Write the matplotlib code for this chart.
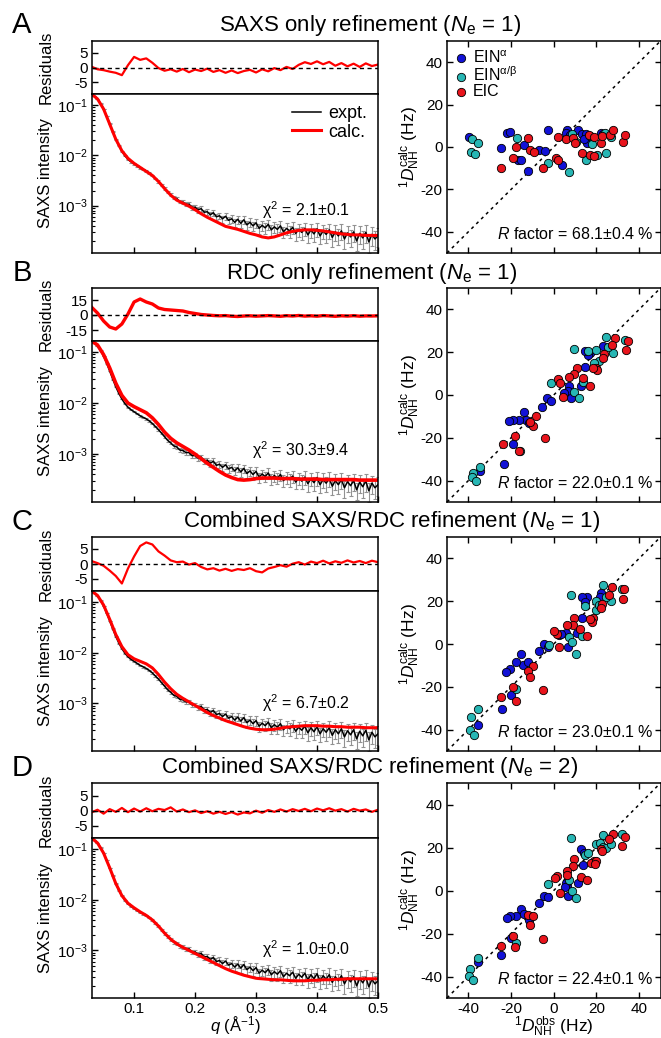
import numpy as np
import matplotlib.pyplot as plt

plt.rcParams['font.family'] = ['Liberation Sans', 'DejaVu Sans']
plt.rcParams['mathtext.fontset'] = 'custom'
plt.rcParams['mathtext.rm'] = 'Liberation Sans'
plt.rcParams['mathtext.it'] = 'Liberation Sans:italic'
plt.rcParams['mathtext.bf'] = 'Liberation Sans:bold'
plt.rcParams['mathtext.sf'] = 'Liberation Sans'
plt.rcParams['axes.unicode_minus'] = False
plt.rcParams['axes.linewidth'] = 1.1

# ---- SAXS data ----
# calc curves and residuals on a 0.01 grid
q = [0.03, 0.04, 0.05, 0.06, 0.07, 0.08, 0.09, 0.10, 0.11, 0.12,
     0.13, 0.14, 0.15, 0.16, 0.17, 0.18, 0.19, 0.20, 0.21, 0.22,
     0.23, 0.24, 0.25, 0.26, 0.27, 0.28, 0.29, 0.30, 0.31, 0.32,
     0.33, 0.34, 0.35, 0.36, 0.37, 0.38, 0.39, 0.40, 0.41, 0.42,
     0.43, 0.44, 0.45, 0.46, 0.47, 0.48, 0.49, 0.50]

# experimental curve (log10 I) on a 0.005 grid, 0.030 ... 0.500
expt_log = [-0.78, -0.82, -0.88, -0.97, -1.08, -1.22, -1.37, -1.53, -1.68, -1.81,
            -1.92, -2.01, -2.08, -2.13, -2.17, -2.21, -2.25, -2.28, -2.31, -2.35,
            -2.40, -2.46, -2.52, -2.59, -2.66, -2.73, -2.78, -2.84, -2.86, -2.92,
            -2.93, -2.97, -2.97, -3.03, -3.03, -3.08, -3.06, -3.13, -3.12, -3.18,
            -3.14, -3.22, -3.20, -3.26, -3.21, -3.29, -3.26, -3.33, -3.27, -3.35,
            -3.28, -3.38, -3.33, -3.40, -3.34, -3.45, -3.39, -3.44, -3.37, -3.48,
            -3.42, -3.47, -3.40, -3.52, -3.45, -3.50, -3.43, -3.55, -3.47, -3.53,
            -3.45, -3.58, -3.48, -3.56, -3.46, -3.60, -3.50, -3.57, -3.48, -3.63,
            -3.52, -3.60, -3.50, -3.66, -3.54, -3.62, -3.52, -3.70, -3.55, -3.64,
            -3.53, -3.72, -3.57, -3.66, -3.60]
expt_relerr = [0.01, 0.01, 0.01, 0.01, 0.01, 0.01, 0.01, 0.02, 0.02, 0.02,
               0.02, 0.02, 0.02, 0.03, 0.03, 0.03, 0.03, 0.03, 0.03, 0.04,
               0.04, 0.04, 0.05, 0.05, 0.06, 0.06, 0.07, 0.07, 0.08, 0.08,
               0.09, 0.10, 0.10, 0.11, 0.11, 0.12, 0.12, 0.13, 0.13, 0.14,
               0.14, 0.15, 0.15, 0.16, 0.16, 0.17, 0.17, 0.18, 0.18, 0.19,
               0.19, 0.20, 0.20, 0.21, 0.21, 0.22, 0.22, 0.23, 0.23, 0.24,
               0.24, 0.25, 0.25, 0.26, 0.26, 0.27, 0.27, 0.28, 0.28, 0.29,
               0.29, 0.30, 0.30, 0.31, 0.31, 0.32, 0.32, 0.33, 0.33, 0.34,
               0.34, 0.35, 0.35, 0.36, 0.36, 0.37, 0.37, 0.38, 0.38, 0.39,
               0.39, 0.40, 0.40, 0.41, 0.41]

calc_a = [-0.78, -0.88, -1.08, -1.38, -1.68, -1.91, -2.06, -2.16, -2.24, -2.32,
          -2.40, -2.52, -2.66, -2.79, -2.89, -2.95, -3.01, -3.08, -3.16, -3.23,
          -3.29, -3.35, -3.41, -3.44, -3.47, -3.51, -3.55, -3.58, -3.62, -3.64,
          -3.62, -3.58, -3.54, -3.51, -3.49, -3.48, -3.48, -3.49, -3.50, -3.52,
          -3.54, -3.56, -3.57, -3.58, -3.58, -3.59, -3.59, -3.59]
calc_b = [-0.78, -0.86, -1.05, -1.31, -1.61, -1.85, -2.00, -2.07, -2.13, -2.19,
          -2.29, -2.42, -2.57, -2.69, -2.78, -2.85, -2.92, -3.00, -3.09, -3.18,
          -3.26, -3.34, -3.41, -3.46, -3.50, -3.51, -3.50, -3.48, -3.47, -3.47,
          -3.47, -3.48, -3.48, -3.48, -3.49, -3.49, -3.49, -3.49, -3.50, -3.50,
          -3.50, -3.50, -3.50, -3.50, -3.51, -3.51, -3.51, -3.51]
calc_c = [-0.78, -0.87, -1.06, -1.34, -1.64, -1.88, -2.04, -2.12, -2.17, -2.22,
          -2.30, -2.43, -2.58, -2.71, -2.82, -2.90, -2.97, -3.04, -3.11, -3.18,
          -3.24, -3.29, -3.34, -3.38, -3.42, -3.46, -3.49, -3.51, -3.52, -3.52,
          -3.51, -3.49, -3.47, -3.46, -3.45, -3.44, -3.44, -3.44, -3.45, -3.45,
          -3.46, -3.46, -3.47, -3.47, -3.47, -3.48, -3.48, -3.48]
calc_d = [-0.78, -0.88, -1.08, -1.37, -1.68, -1.92, -2.07, -2.16, -2.24, -2.31,
          -2.40, -2.52, -2.66, -2.78, -2.87, -2.94, -3.00, -3.06, -3.12, -3.18,
          -3.24, -3.30, -3.36, -3.41, -3.45, -3.49, -3.52, -3.55, -3.56, -3.57,
          -3.58, -3.58, -3.59, -3.60, -3.60, -3.60, -3.59, -3.59, -3.58, -3.58,
          -3.57, -3.57, -3.56, -3.56, -3.56, -3.56, -3.56, -3.56]

resid_a = [0.3, -0.6, -0.9, -1.4, -1.8, -2.6, 0.8, 3.6, 2.6, 3.1,
           1.6, -0.2, -1.1, -0.6, -1.4, -0.5, -1.6, -0.7, -1.2, -0.4,
           -1.5, -0.9, -1.8, -1.0, -1.9, -1.2, -0.8, -1.7, -0.6, -1.3,
           -0.2, -0.9, 0.2, -0.5, 0.9, 1.8, 1.2, 2.1, 1.1, 1.9,
           0.6, 1.5, 0.4, 1.3, 0.2, 1.4, 0.5, 1.0]
resid_b = [8, 2, -6, -12, -14, -9, 1, 13, 16, 13,
           11, 7, 5.5, 5, 4.5, 4, 2.5, 1.5, 0.5, 0,
           -0.5, -0.8, -0.6, -1.2, -1.5, -1.0, -0.8, -1.2, -0.9, -0.6,
           -0.9, -1.3, -0.7, -1.0, -0.5, -1.1, -0.8, -1.2, -0.6, -0.9,
           -1.3, -0.8, -1.1, -0.7, -1.2, -0.9, -1.0, -0.8]
resid_c = [1.0, 0.3, -0.6, -2.2, -4.0, -6.5, -1.5, 2.5, 6.0, 7.2,
           6.5, 4.2, 2.8, 1.2, 0.6, 0.8, -0.2, 0.3, -1.0, -1.8,
           -1.4, -2.2, -1.6, -2.3, -1.7, -2.0, -1.4, -2.4, -2.8, -1.5,
           -1.0, -0.4, -0.9, 0.1, 0.6, -0.2, 0.8, 0.3, 1.1, 0.2,
           0.9, 0.4, 1.2, 0.5, 1.0, 0.3, 1.1, 0.6]
resid_d = [-0.5, 0.4, -0.9, 0.6, -0.3, 1.0, -0.4, 0.8, -0.2, 0.9,
           -0.1, 0.7, 0.3, 1.2, -0.2, 0.5, -0.4, 0.2, -0.7, -0.1,
           -0.9, -0.3, -1.0, -0.4, -1.2, -0.5, -0.8, 0.1, -0.6, 0.3,
           -0.3, 0.5, -0.2, 0.6, 0.0, 0.7, -0.1, 0.8, 0.2, 0.9,
           0.1, 0.6, -0.2, 0.7, 0.1, 0.5, -0.3, 0.4]

# ---- RDC data: observed (x) vs calculated (y), Hz ----
a_eina_x = [-39.6, -24.5, -22.1, -20.3, -14.1, -16.9, -15.2, -12.1, -7.1, -4.3, -2.5,
            3.7, 6.0, 5.6, 7.5, 11.5, 13.3, 15.3, 15.8, 22.3, 23.0, 14.2]
a_eina_y = [4.9, -0.3, 6.8, 7.3, 0.9, -6.2, -6.3, -11.4, -1.6, -1.9, 7.9,
            -8.5, 7.9, 6.8, 5.5, 7.9, 6.0, 6.3, 1.7, 6.8, 5.9, 3.6]
a_einab_x = [-38.5, -35.3, -38.9, -37.0, -17.2, -2.5, 7.1, 8.4, 10.2, 14.9, 18.0,
             20.4, 24.3, 23.8, 26.6, 16.9]
a_einab_y = [3.6, 2.1, -2.4, -3.5, 4.4, -7.7, -11.8, 6.0, 2.5, -6.3, 1.6,
             -3.8, -2.7, 6.8, 4.9, 5.2]
a_eic_x = [-24.6, -19.2, -17.6, -12.1, -11.3, -9.1, -5.1, 0.9, 2.0, 2.2, 5.7, 9.1,
           10.0, 13.0, 16.6, 18.7, 16.9, 18.9, 22.0, 22.8, 26.2, 27.7, 32.4, 33.4]
a_eic_y = [-9.8, -5.4, -0.2, 4.1, -1.4, -2.4, -9.8, -5.0, -6.2, 4.9, 3.6, 4.4,
           2.0, -2.7, 5.5, 4.9, -3.9, -4.3, 2.1, 5.2, 5.5, 7.9, 2.4, 5.5]

b_eina_x = [23.0, 17.0, 16.2, 14.7, 14.7, 12.7, 7.3, 6.6, 4.6, 8.0, -3.2,
            -1.5, -5.7, -14.1, -12.8, -16.2, -19.3, -21.0, -11.6, -19.2, -23.3, -34.5]
b_eina_y = [23.0, 19.8, 18.7, 20.6, 13.2, 4.2, 4.2, 2.0, 0.8, -1.6, -1.6,
            -2.6, -5.5, -7.9, -11.7, -11.7, -11.7, -12.1, -12.9, -23.0, -32.4, -35.4]
b_einab_x = [24.6, 33.6, 27.9, 25.5, 19.8, 21.3, 18.7, 15.9, 9.3, 13.9, 9.7, 11.7,
             -1.2, -16.0, -34.5, -37.9, -38.3, -36.6]
b_einab_y = [26.9, 25.7, 19.5, 22.6, 21.0, 15.9, 14.8, 20.4, 21.3, 6.2, 1.6, -1.6,
             5.5, -26.2, -33.5, -36.6, -38.2, -40.2]
b_eic_x = [28.7, 34.9, 33.8, 27.3, 23.7, 22.9, 19.8, 20.1, 18.2, 10.7, 9.6, 7.0,
           2.2, 3.1, 4.2, 13.9, 17.1, -8.3, -9.8, -10.9, -18.0, -16.3, -23.8, -3.9]
b_eic_y = [26.5, 25.4, 21.0, 23.4, 19.2, 17.1, 12.8, 11.7, 12.6, 12.8, 9.7, 8.6,
           7.3, 5.5, -1.1, 7.8, 4.2, -9.8, -14.3, -12.5, -19.0, -26.0, -23.0, -20.2]

c_eina_x = [22.0, 21.5, 15.5, 13.1, 14.7, 13.4, 10.8, 6.6, 5.7, 2.6, 3.4, -4.6,
            -6.9, -2.8, -15.5, -14.4, -17.5, -12.2, -20.6, -22.4, -20.0, -24.4, -35.5]
c_eina_y = [23.6, 21.9, 21.9, 21.9, 19.7, 12.0, 5.2, -1.3, 5.2, 4.1, 4.9, 0.2,
            -3.4, -1.5, -4.6, -9.6, -8.5, -8.5, -11.5, -13.0, -23.6, -30.3, -37.7]
c_einab_x = [23.3, 32.0, 26.6, 24.6, 19.6, 19.6, 21.2, 14.7, 8.0, 7.0, 8.5, 13.0,
             10.4, -2.3, -17.5, -35.5, -38.8, -39.1, -37.2]
c_einab_y = [27.4, 25.5, 20.0, 21.9, 20.3, 16.0, 18.0, 17.7, 22.9, 3.2, 1.0, 3.6,
             -4.9, -0.5, -21.0, -30.3, -33.9, -40.3, -42.6]
c_eic_x = [27.4, 32.8, 32.4, 26.1, 22.4, 22.0, 18.5, 18.1, 16.8, 9.6, 8.8, 6.0,
           1.5, 0.3, 2.6, 12.4, 15.5, -9.7, -12.0, -11.3, -19.3, -17.9, -24.8, -5.1]
c_eic_y = [26.8, 25.5, 20.9, 22.9, 18.5, 16.9, 12.0, 10.4, 11.8, 12.3, 9.1, 8.8,
           4.9, 6.3, -1.5, 7.2, 3.6, -10.4, -12.7, -15.4, -20.2, -26.8, -24.7, -21.5]

d_eina_x = [12.8, 13.6, 11.3, 6.1, 5.8, 5.5, 6.6, -4.6, -2.7, -6.9, -15.4, -14.0,
            -17.5, -20.6, -22.1, -11.7, -19.8, -24.5, -35.7, 14.4]
d_eina_y = [19.3, 11.9, 3.7, 2.6, 3.7, 1.8, -2.4, -2.4, -2.9, -5.7, -8.5, -10.8,
            -11.8, -11.8, -12.6, -13.8, -21.9, -30.2, -33.3, 17.4]
d_einab_x = [8.2, 23.2, 32.2, 19.8, 21.6, 22.9, 24.4, 26.7, 14.5, 15.9, 7.1, 8.6,
             10.5, -2.5, -17.5, -35.7, -39.2, -39.7, -37.7]
d_einab_y = [24.4, 26.0, 26.3, 21.6, 22.1, 20.2, 20.0, 21.6, 16.6, 17.4, 4.9, -0.2,
             -3.7, 2.9, -24.2, -31.4, -36.4, -39.8, -41.4]
d_eic_x = [27.6, 26.0, 22.3, 22.6, 33.3, 32.2, 18.7, 17.5, 19.8, 19.3, 9.7, 8.9, 6.1,
           6.3, 1.6, 0.4, 12.8, 15.6, 2.7, -11.9, -9.7, -11.3, -19.3, -18.0, -24.9, -5.0]
d_eic_y = [26.3, 23.9, 19.3, 18.6, 24.7, 20.6, 13.8, 13.0, 13.8, 12.4, 14.6, 11.2, 9.3,
           7.3, 6.8, 6.0, 6.2, 4.9, -1.3, -11.2, -11.8, -16.1, -21.3, -26.5, -26.0, -22.7]

titles = [r'SAXS only refinement ($N_{\mathrm{e}}$ = 1)',
          r'RDC only refinement ($N_{\mathrm{e}}$ = 1)',
          r'Combined SAXS/RDC refinement ($N_{\mathrm{e}}$ = 1)',
          r'Combined SAXS/RDC refinement ($N_{\mathrm{e}}$ = 2)']
chi2_labels = ['2.1±0.1', '30.3±9.4', '6.7±0.2', '1.0±0.0']
rfactor_labels = ['68.1±0.4', '22.0±0.1', '23.0±0.1', '22.4±0.1']

BLUE, TEAL, RED = '#1212d6', '#27b6b4', '#e8141c'
W, H = 661, 1038

fig = plt.figure(figsize=(W / 100, H / 100), dpi=100)


def add_ax(l, t, r, b):
    """axes from pixel box"""
    return fig.add_axes([l / W, 1 - b / H, (r - l) / W, (b - t) / H])


tops = [41, 288, 537, 783]
mids = [94, 341, 591, 838]
bots = [253, 502, 751, 998]
title_x = [370, 372, 392, 370]
title_y = [25, 273, 522, 768]
chi_pos = [(0.594, 0.27), (0.559, 0.32), (0.594, 0.30), (0.594, 0.305)]
res_lims = [(-9, 9), (-26, 27), (-9, 9), (-9, 9.3)]
res_ticks = [[-5, 0, 5], [-15, 0, 15], [-5, 0, 5], [-5, 0, 5]]

panels = [
    ('A', calc_a, resid_a, (a_eina_x, a_eina_y), (a_einab_x, a_einab_y), (a_eic_x, a_eic_y)),
    ('B', calc_b, resid_b, (b_eina_x, b_eina_y), (b_einab_x, b_einab_y), (b_eic_x, b_eic_y)),
    ('C', calc_c, resid_c, (c_eina_x, c_eina_y), (c_einab_x, c_einab_y), (c_eic_x, c_eic_y)),
    ('D', calc_d, resid_d, (d_eina_x, d_eina_y), (d_einab_x, d_einab_y), (d_eic_x, d_eic_y)),
]

qa = np.array(q)
q_fine = np.linspace(0.03, 0.5, len(expt_log))
I_expt = 10 ** np.array(expt_log)
rel = np.array(expt_relerr)

for i, (letter, calc, resid, eina, einab, eic) in enumerate(panels):
    last = i == 3
    fig.text(22 / W, 1 - title_y[i] / H, letter, fontsize=21, ha='center', va='center')
    fig.text(title_x[i] / W, 1 - title_y[i] / H, titles[i], fontsize=16, ha='center', va='center')

    # residuals
    axr = add_ax(92, tops[i], 378, mids[i])
    axr.plot(qa, resid, color='red', lw=1.6 if i != 1 else 2.4)
    axr.axhline(0, color='black', ls=(0, (3, 2.5)), lw=1)
    axr.set_xlim(0.031, 0.5)
    axr.set_ylim(*res_lims[i])
    axr.set_yticks(res_ticks[i])
    axr.set_xticks([])
    axr.tick_params(axis='y', direction='in', length=4, width=1, labelsize=11, pad=3)
    axr.set_ylabel('Residuals', fontsize=12)
    axr.yaxis.set_label_coords(-0.135, 0.5)

    # SAXS curves
    ax = add_ax(92, mids[i], 378, bots[i])
    ax.errorbar(q_fine, I_expt, yerr=[I_expt * rel, I_expt * rel], fmt='none',
                ecolor='#929292', elinewidth=0.8, capsize=1.5, capthick=0.8)
    ax.plot(q_fine, I_expt, color='black', lw=1.1, label='expt.')
    ax.plot(qa, 10 ** np.array(calc), color='red', lw=2.2 if i != 1 else 2.6, label='calc.')
    ax.set_yscale('log')
    ax.set_xlim(0.031, 0.5)
    ax.set_ylim(1.15e-4, 0.165)
    ax.set_xticks([0.1, 0.2, 0.3, 0.4, 0.5])
    ax.tick_params(which='major', direction='in', length=4, width=1, labelsize=11, pad=3)
    ax.tick_params(which='minor', direction='in', length=2, width=0.8)
    ax.set_ylabel('SAXS intensity', fontsize=12)
    ax.yaxis.set_label_coords(-0.135, 0.5)
    ax.text(chi_pos[i][0], chi_pos[i][1], r'χ$^{2}$ = ' + chi2_labels[i],
            transform=ax.transAxes, fontsize=11.5, va='center', ha='left')
    if last:
        ax.set_xticklabels(['0.1', '0.2', '0.3', '0.4', '0.5'])
        ax.set_xlabel(r'$q$ (Å$^{-1}$)', fontsize=12, labelpad=-1)
    else:
        ax.set_xticklabels([])
    if i == 0:
        ax.legend(loc='upper right', frameon=False, fontsize=13, handlelength=1.6,
                  handletextpad=0.4, labelspacing=0.1, borderaxespad=0.2)

    # RDC scatter
    axs = add_ax(447, tops[i], 660.5, bots[i])
    axs.plot([-50, 50], [-50, 50], color='black', ls=(0, (2, 2.5)), lw=1.1, zorder=1)
    for (xs, ys), col, lab in [(eina, BLUE, r'EIN$^{\mathrm{α}}$'),
                               (einab, TEAL, r'EIN$^{\mathrm{α/β}}$'),
                               (eic, RED, 'EIC')]:
        axs.scatter(xs, ys, s=36, color=col, edgecolors='black', linewidths=0.6,
                    zorder=3, label=lab)
    axs.set_xlim(-50, 50)
    axs.set_ylim(-50, 50)
    axs.set_xticks([-40, -20, 0, 20, 40])
    axs.set_yticks([-40, -20, 0, 20, 40])
    axs.tick_params(direction='in', length=4, width=1, labelsize=11, pad=3,
                    top=True, right=True)
    axs.set_ylabel(r'${}^{1}D_{\mathrm{NH}}^{\mathrm{calc}}$ (Hz)', fontsize=12.5, labelpad=0)
    axs.yaxis.set_label_coords(-0.115, 0.5)
    axs.text(0.97, 0.09, r'$R$ factor = ' + rfactor_labels[i] + ' %',
             transform=axs.transAxes, fontsize=11.5, ha='right', va='center')
    if last:
        axs.set_xlabel(r'${}^{1}D_{\mathrm{NH}}^{\mathrm{obs}}$ (Hz)', fontsize=12.5, labelpad=-1)
    else:
        axs.set_xticklabels([])
    if i == 0:
        axs.legend(loc='upper left', frameon=False, fontsize=11.5, handlelength=0.8,
                   handletextpad=0.3, labelspacing=0.0, borderaxespad=0.3,
                   borderpad=0.2)

fig.savefig('out.png', dpi=100)
